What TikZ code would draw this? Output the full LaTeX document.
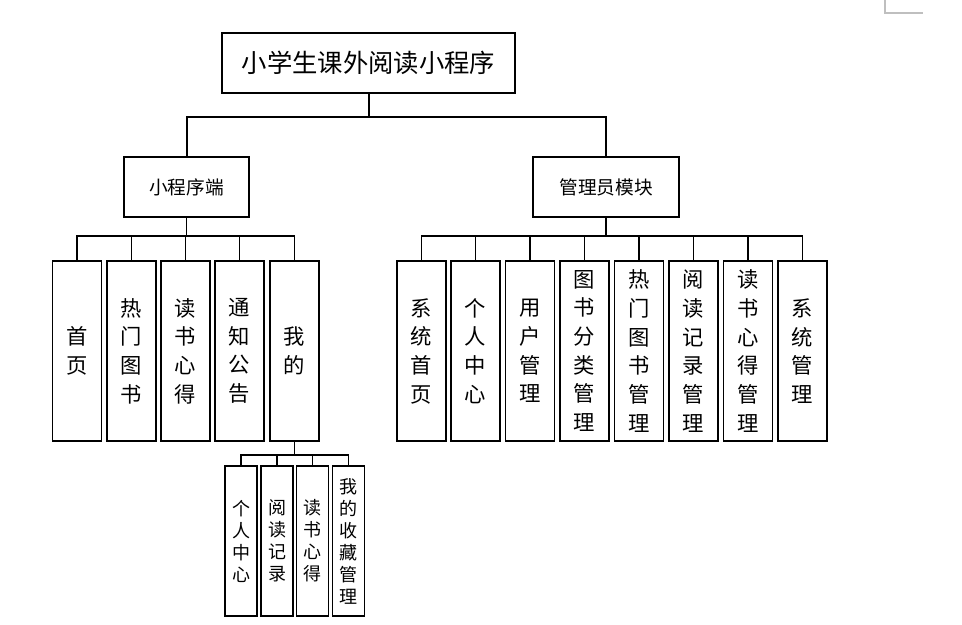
\documentclass[tikz,border=0pt]{standalone}
\usepackage{fontspec}
\usepackage{tikz}
\usepackage{xcolor}
\newfontfamily\cjk{Noto Sans CJK SC}
\tikzset{
    root-box/.style = {draw=black, fill=white, line width=1.3pt, rectangle, inner sep=0pt, minimum width=220pt, minimum height=45pt, font=\cjk\fontsize{19pt}{23pt}\selectfont},
    part-box/.style = {draw=black, fill=white, line width=1.3pt, rectangle, inner sep=0pt, minimum height=45pt, font=\cjk\fontsize{14pt}{17pt}\selectfont},
    leaf-box/.style = {draw=black, fill=white, line width=1.3pt, rectangle, inner sep=0pt, minimum width=36.75pt, minimum height=135pt, align=center, font=\cjk\fontsize{16pt}{21.5pt}\selectfont},
    sub-box/.style = {draw=black, fill=white, line width=1.3pt, rectangle, inner sep=0pt, minimum width=24pt, minimum height=112.5pt, align=center, font=\cjk\fontsize{13.5pt}{16.5pt}\selectfont},
    link/.style = {draw=black, line width=1pt},
}

\begin{document}
\begin{tikzpicture}[x=0.75pt, y=-0.75pt]
\useasboundingbox (0,0) rectangle (962,624);
\draw[gray!50, line width=0.8pt] (885,0) -- (885,13) -- (923,13);

\node [root-box] (root) at (368.5,63) {小学生课外阅读小程序};
\node [part-box, minimum width=93.75pt] (app) at (186.5,187) {小程序端};
\node [part-box, minimum width=109.5pt] (admin) at (606,187) {管理员模块};

% 小程序端
\node [leaf-box] (home) at (77,351) {首\\页};
\node [leaf-box] (hot) at (131.5,351) {热\\门\\图\\书};
\node [leaf-box] (notes) at (185.5,351) {读\\书\\心\\得};
\node [leaf-box] (notice) at (239.5,351) {通\\知\\公\\告};
\node [leaf-box] (mine) at (294.5,351) {我\\的};

% 我的
\node [sub-box] (profile) at (241,541) {个\\人\\中\\心};
\node [sub-box] (history) at (277,541) {阅\\读\\记\\录};
\node [sub-box] (mynotes) at (312.5,541) {读\\书\\心\\得};
\node [sub-box] (favs) at (348.5,541) {我\\的\\收\\藏\\管\\理};

% 管理员模块
\node [leaf-box] (sys-home) at (421.5,351) {系\\统\\首\\页};
\node [leaf-box] (center) at (475.5,351) {个\\人\\中\\心};
\node [leaf-box] (users) at (530,351) {用\\户\\管\\理};
\node [leaf-box] (category) at (584.5,351) {图\\书\\分\\类\\管\\理};
\node [leaf-box] (hot-admin) at (639,351) {热\\门\\图\\书\\管\\理};
\node [leaf-box] (records) at (693.5,351) {阅\\读\\记\\录\\管\\理};
\node [leaf-box] (notes-admin) at (748,351) {读\\书\\心\\得\\管\\理};
\node [leaf-box] (system) at (802.5,351) {系\\统\\管\\理};

\coordinate (bar-root) at (368.5,117);
\coordinate (bar-app) at (186.5,236);
\coordinate (bar-admin) at (606,236);
\coordinate (bar-mine) at (294.5,455);

\draw [link, line width=1.5pt] (root.south) -- (bar-root);
\draw [link, line width=1.5pt] (app.north) |- (bar-root) -| (admin.north);

\draw [link] (app.south) -- (bar-app);
\draw [link] (home.north) |- (bar-app);
\draw [link] (hot.north) |- (bar-app);
\draw [link] (notes.north) |- (bar-app);
\draw [link] (notice.north) |- (bar-app);
\draw [link] (mine.north) |- (bar-app);

\draw [link] (mine.south) -- (bar-mine);
\draw [link] (profile.north) |- (bar-mine);
\draw [link] (history.north) |- (bar-mine);
\draw [link] (mynotes.north) |- (bar-mine);
\draw [link] (favs.north) |- (bar-mine);

\draw [link] (admin.south) -- (bar-admin);
\draw [link] (sys-home.north) |- (bar-admin);
\draw [link] (center.north) |- (bar-admin);
\draw [link] (users.north) |- (bar-admin);
\draw [link] (category.north) |- (bar-admin);
\draw [link] (hot-admin.north) |- (bar-admin);
\draw [link] (records.north) |- (bar-admin);
\draw [link] (notes-admin.north) |- (bar-admin);
\draw [link] (system.north) |- (bar-admin);
\end{tikzpicture}
\end{document}
